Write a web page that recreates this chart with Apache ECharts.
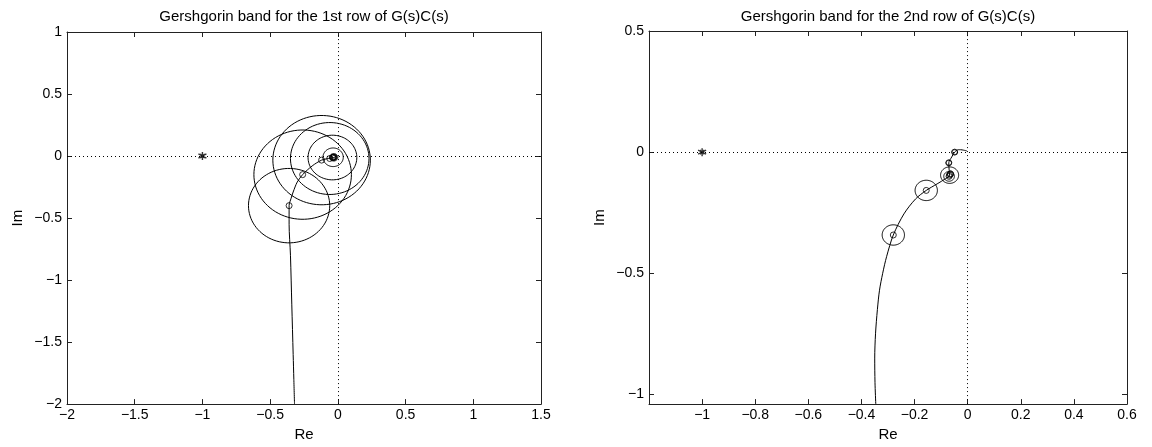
<!DOCTYPE html>
<html>
<head>
<meta charset="utf-8">
<script src="https://cdn.jsdelivr.net/npm/echarts@6/dist/echarts.min.js"></script>
<style>
  html, body { margin: 0; padding: 0; background: #fff; }
  #chart { width: 1152px; height: 447px; }
</style>
</head>
<body>
<div id="chart"></div>
<script>
// row 1: locus and Gershgorin discs
const row1CurveX = [-0.32, -0.325, -0.33, -0.34, -0.35, -0.36, -0.36, -0.345, -0.33, -0.30, -0.26, -0.19, -0.12, -0.07, -0.045, -0.03, -0.02]
const row1CurveY = [-2.0, -1.8, -1.6, -1.2, -0.8, -0.55, -0.40, -0.34, -0.29, -0.21, -0.15, -0.08, -0.033, -0.02, -0.015, -0.012, -0.01]
const row1DiscX = [-0.36, -0.26, -0.12, -0.06, -0.04, -0.035, -0.03, -0.028]
const row1DiscY = [-0.40, -0.15, -0.033, -0.02, -0.012, -0.01, -0.01, -0.01]
const row1DiscR = [0.30, 0.36, 0.36, 0.29, 0.18, 0.075, 0.03, 0.015]

// row 2
const row2CurveX = [-0.346, -0.349, -0.350, -0.347, -0.340, -0.332, -0.320, -0.305, -0.28, -0.24, -0.196, -0.156, -0.115, -0.084, -0.068, -0.07, -0.071, -0.06, -0.049, -0.035, -0.027, -0.015, -0.003]
const row2CurveY = [-1.04, -0.95, -0.85, -0.75, -0.65, -0.57, -0.50, -0.43, -0.342, -0.255, -0.193, -0.158, -0.131, -0.110, -0.095, -0.07, -0.044, -0.02, 0, 0.01, 0.01, 0.008, 0.005]
const row2DiscX = [-0.28, -0.156, -0.068, -0.07, -0.065, -0.071, -0.049]
const row2DiscY = [-0.342, -0.158, -0.095, -0.10, -0.09, -0.044, 0]
const row2DiscR = [0.042, 0.042, 0.034, 0.02, 0.012, 0.01, 0.01]

const criticalPoint = [-1, 0]

const titles = ['Gershgorin band for the 1st row of G(s)C(s)', 'Gershgorin band for the 2nd row of G(s)C(s)']
const row2YTicks = [-1, -0.5, 0, 0.5]

const FONT = '"Liberation Sans", Arial, Helvetica, sans-serif'

const zip = (xs, ys) => xs.map((x, i) => [x, ys[i]])
const discs = (xs, ys, rs) => xs.map((x, i) => [x, ys[i], rs[i]])

const fmt = (hide) => (v) => {
  const n = Number(Number(v).toFixed(3))
  if (hide !== undefined && Math.abs(n - hide) < 1e-6) return ''
  return String(n).replace('-', '\u2212')
}

const tickStyle = { inside: true, length: 5, lineStyle: { color: '#222', width: 1 } }
const lineStyle = { show: true, onZero: false, lineStyle: { color: '#222', width: 1 } }

function xAxes(grid, min, max, interval, hide) {
  const base = { type: 'value', gridIndex: grid, min, max, interval, splitLine: { show: false }, axisLine: lineStyle, axisTick: tickStyle }
  return [
    {
      ...base, position: 'bottom',
      name: 'Re', nameLocation: 'middle', nameGap: 21,
      nameTextStyle: { color: '#000', fontSize: 15, fontFamily: FONT },
      axisLabel: { color: '#000', fontSize: 14, fontFamily: FONT, margin: 4, formatter: fmt(hide) },
    },
    { ...base, position: 'top', axisLabel: { show: false } },
  ]
}

function yAxes(grid, min, max, interval, custom) {
  const base = { type: 'value', gridIndex: grid, min, max, splitLine: { show: false }, axisLine: lineStyle }
  if (custom) {
    base.axisTick = { ...tickStyle, customValues: custom }
  } else {
    base.interval = interval
    base.axisTick = tickStyle
  }
  const label = { color: '#000', fontSize: 14, fontFamily: FONT, margin: 5, formatter: fmt() }
  if (custom) label.customValues = custom
  return [
    {
      ...base, position: 'left',
      name: 'Im', nameLocation: 'middle', nameGap: 42, nameRotate: 90,
      nameTextStyle: { color: '#000', fontSize: 15, fontFamily: FONT },
      axisLabel: label,
    },
    { ...base, position: 'right', axisLabel: { show: false } },
  ]
}

// disc outline drawn through the axes (so it follows each axis scale)
const renderDisc = (params, api) => {
  const cx = api.value(0), cy = api.value(1), r = api.value(2)
  const pts = []
  for (let k = 0; k <= 90; k++) {
    const a = (k / 90) * Math.PI * 2
    pts.push(api.coord([cx + r * Math.cos(a), cy + r * Math.sin(a)]))
  }
  return { type: 'polyline', shape: { points: pts }, style: { stroke: '#000', fill: null, lineWidth: 1 } }
}

const starPath = 'path://M0,-5L0,5M-4.5,-2.6L4.5,2.6M-4.5,2.6L4.5,-2.6M-1.5,-1.5L1.5,1.5L1.5,-1.5L-1.5,1.5Z'

function panelSeries(idx, curveX, curveY, dx, dy, dr) {
  const ax = { xAxisIndex: idx * 2, yAxisIndex: idx * 2 }
  return [
    {
      ...ax, type: 'line', data: zip(curveX, curveY), showSymbol: false, smooth: 0.3,
      lineStyle: { color: '#000', width: 1 },
      markLine: {
        silent: true, symbol: 'none', label: { show: false },
        lineStyle: { type: [1, 3], color: '#000', width: 1 },
        data: [{ xAxis: 0 }, { yAxis: 0 }],
      },
    },
    { ...ax, type: 'custom', data: discs(dx, dy, dr), renderItem: renderDisc, clip: true },
    {
      ...ax, type: 'scatter', data: zip(dx, dy), symbol: 'circle', symbolSize: 6,
      itemStyle: { color: 'transparent', borderColor: '#000', borderWidth: 1 },
    },
    {
      ...ax, type: 'scatter', data: [criticalPoint], symbol: starPath, symbolSize: 8,
      itemStyle: { color: '#000', borderColor: '#000', borderWidth: 1.4 },
    },
  ]
}

const chart = echarts.init(document.getElementById('chart'))

chart.setOption({
  animation: false,
  backgroundColor: '#fff',
  grid: [
    { left: 67, top: 32, width: 474, height: 373 },
    { left: 649, top: 31, width: 478, height: 375 },
  ],
  graphic: [
    { type: 'text', x: 304, y: 17, style: { text: titles[0], fill: '#000', font: '15px ' + FONT, align: 'center', verticalAlign: 'middle', textAlign: 'center', textVerticalAlign: 'middle' } },
    { type: 'text', x: 888, y: 17, style: { text: titles[1], fill: '#000', font: '15px ' + FONT, align: 'center', verticalAlign: 'middle', textAlign: 'center', textVerticalAlign: 'middle' } },
  ],
  xAxis: [
    ...xAxes(0, -2, 1.5, 0.5),
    ...xAxes(1, -1.2, 0.6, 0.2, -1.2),
  ],
  yAxis: [
    ...yAxes(0, -2, 1, 0.5),
    ...yAxes(1, -1.04, 0.5, null, row2YTicks),
  ],
  series: [
    ...panelSeries(0, row1CurveX, row1CurveY, row1DiscX, row1DiscY, row1DiscR),
    ...panelSeries(1, row2CurveX, row2CurveY, row2DiscX, row2DiscY, row2DiscR),
  ],
})
</script>
</body>
</html>
